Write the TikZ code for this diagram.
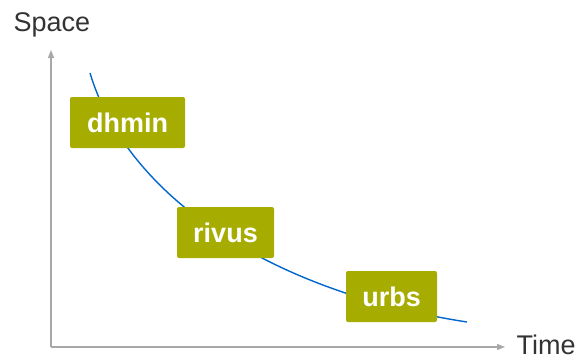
\documentclass[tikz,border=0pt]{standalone}
\usepackage{fontspec}
\setmainfont{Liberation Sans}
\usepackage{xcolor}
\definecolor{toolgreen}{HTML}{A6AD00}
\definecolor{trendblue}{HTML}{0066CC}
\definecolor{axisgray}{HTML}{A8A8A8}
\definecolor{labelgray}{HTML}{333333}
\usetikzlibrary{arrows.meta,positioning}

\begin{document}
\begin{tikzpicture}[x=1pt,y=1pt]
	\useasboundingbox (0,0) rectangle (577,360);
	\begin{scope}[
		axis/.style={draw=axisgray,line width=1.3pt,-{Triangle[length=8pt,width=6pt]}},
		axislabel/.style={text=labelgray,font=\fontsize{27}{30}\selectfont},
		trend/.style={draw=trendblue,line width=1.4pt},
		tool/.style={rectangle,rounded corners=2pt,fill=toolgreen,text=white,
			font=\fontsize{27}{31}\selectfont\bfseries,inner xsep=0pt,
			minimum height=51pt}]
		% axes
		\coordinate (O) at (51,13);
		\coordinate (ytip) at (51,310);
		\coordinate (xtip) at (505,13);
		\draw [axis] (O) -- (ytip);
		\draw [axis] (O) -- (xtip);
		\node [axislabel, anchor=base west]	(space)	at (10,329)	{Space};
		\node [axislabel, anchor=base west]	(time)	at (513,6)	{Time};
		% trade-off curve
		\coordinate (c0) at (90,287);
		\coordinate (c1) at (467,38);
		\draw [trend] (c0) .. controls (125,170) and (260,70) .. (c1);
		% models
		\node [tool, minimum width=115pt]	(dhmin)	at (127.5,237.5)	{dhmin};
		\node [tool, minimum width=97pt]	(rivus)	at (225.5,127.5)	{rivus};
		\node [tool, minimum width=91pt]	(urbs)	at (391.5,63.5)	{urbs};
	\end{scope}
\end{tikzpicture}
\end{document}
